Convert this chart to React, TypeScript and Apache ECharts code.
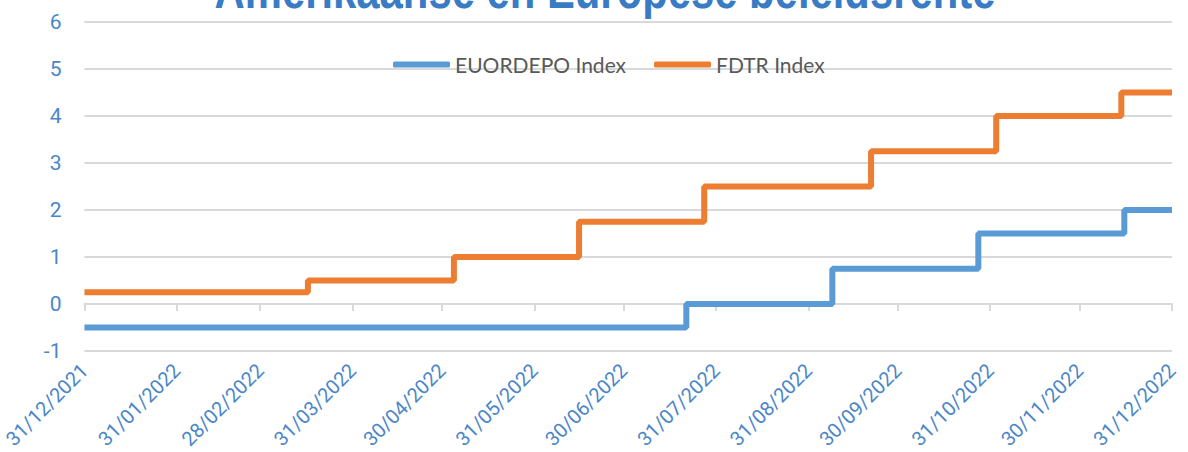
import React, { useEffect, useRef } from 'react';
import * as echarts from 'echarts';

const titleText = 'Amerikaanse en Europese beleidsrente';
const seriesNames = ['EUORDEPO Index', 'FDTR Index'];
const euDates = ['2021-12-31', '2022-07-21', '2022-09-08', '2022-10-27', '2022-12-15', '2022-12-31'];
const euValues = [-0.5, 0, 0.75, 1.5, 2.0, 2.0];
const fdDates = ['2021-12-31', '2022-03-16', '2022-05-04', '2022-06-15', '2022-07-27', '2022-09-21', '2022-11-02', '2022-12-14', '2022-12-31'];
const fdValues = [0.25, 0.5, 1.0, 1.75, 2.5, 3.25, 4.0, 4.5, 4.5];
const tickDates = ['2021-12-31', '2022-01-31', '2022-02-28', '2022-03-31', '2022-04-30', '2022-05-31', '2022-06-30', '2022-07-31', '2022-08-31', '2022-09-30', '2022-10-31', '2022-11-30', '2022-12-31'];

const ts = (d: string) => {
  const [y, m, day] = d.split('-').map(Number);
  return Date.UTC(y, m - 1, day);
};

const fmt = (v: number) => {
  const d = new Date(v);
  const dd = String(d.getUTCDate()).padStart(2, '0');
  const mm = String(d.getUTCMonth() + 1).padStart(2, '0');
  return `${dd}/${mm}/${d.getUTCFullYear()}`;
};

const LABEL_FONT = 'Roboto, sans-serif';
const BLUE_TXT = '#4a86c8';
const GRID = '#d9d9d9';

export default function App() {
  const ref = useRef<HTMLDivElement>(null);
  useEffect(() => {
    if (!ref.current) return;
    const chart = echarts.init(ref.current, undefined, { renderer: 'svg' });
    const ticks = tickDates.map(ts);
    const xmin = ts(tickDates[0]);
    const xmax = ts(tickDates[tickDates.length - 1]);
    chart.setOption({
      animation: false,
      backgroundColor: '#ffffff',
      graphic: [
        {
          type: 'text',
          x: 605,
          y: -9,
          scaleX: 0.82,
          style: {
            text: titleText,
            font: "bold 51px 'Liberation Sans', Arial, sans-serif",
            fill: '#3a7cc4',
            align: 'center',
            verticalAlign: 'middle',
          },
          z: 10,
        },
      ],
      legend: {
        top: 49,
        left: 388,
        itemWidth: 57,
        itemHeight: 6,
        itemGap: 28,
        icon: 'roundRect',
        textStyle: { color: '#595959', fontSize: 21, fontFamily: 'Lato, sans-serif' },
        data: seriesNames,
      },
      grid: { left: 83, right: 16, top: 22, bottom: 101, containLabel: false },
      xAxis: [
        {
          type: 'value',
          min: xmin,
          max: xmax,
          position: 'bottom',
          axisLine: { show: false, onZero: false },
          axisTick: { show: false },
          splitLine: { show: false },
          axisLabel: {
            customValues: ticks,
            rotate: 45,
            margin: 16,
            color: BLUE_TXT,
            fontSize: 20,
            fontFamily: LABEL_FONT,
            formatter: (v: number) => fmt(v),
            hideOverlap: false,
          },
        },
        {
          type: 'value',
          min: xmin,
          max: xmax,
          position: 'top',
          axisLine: { show: true, onZero: true, lineStyle: { color: GRID, width: 2 } },
          axisTick: { show: true, inside: true, length: 7, customValues: ticks, lineStyle: { color: GRID, width: 2 } },
          axisLabel: { show: false },
          splitLine: { show: false },
        },
      ],
      yAxis: {
        type: 'value',
        min: -1,
        max: 6,
        interval: 1,
        axisLine: { show: false },
        axisTick: { show: false },
        axisLabel: { color: BLUE_TXT, fontSize: 21, fontFamily: LABEL_FONT, margin: 23 },
        splitLine: { lineStyle: { color: GRID, width: 2 } },
      },
      series: [
        {
          name: seriesNames[0],
          type: 'line',
          step: 'end',
          showSymbol: false,
          symbol: 'none',
          xAxisIndex: 0,
          color: '#5b9bd5',
          lineStyle: { width: 6, color: '#5b9bd5' },
          data: euDates.map((d, i) => [ts(d), euValues[i]]),
          z: 3,
        },
        {
          name: seriesNames[1],
          type: 'line',
          step: 'end',
          showSymbol: false,
          symbol: 'none',
          xAxisIndex: 0,
          color: '#ed7d31',
          lineStyle: { width: 6, color: '#ed7d31' },
          data: fdDates.map((d, i) => [ts(d), fdValues[i]]),
          z: 3,
        },
      ],
    });
    return () => chart.dispose();
  }, []);
  return <div ref={ref} style={{ position: 'fixed', left: 0, top: 0, width: 1188, height: 452 }} />;
}
